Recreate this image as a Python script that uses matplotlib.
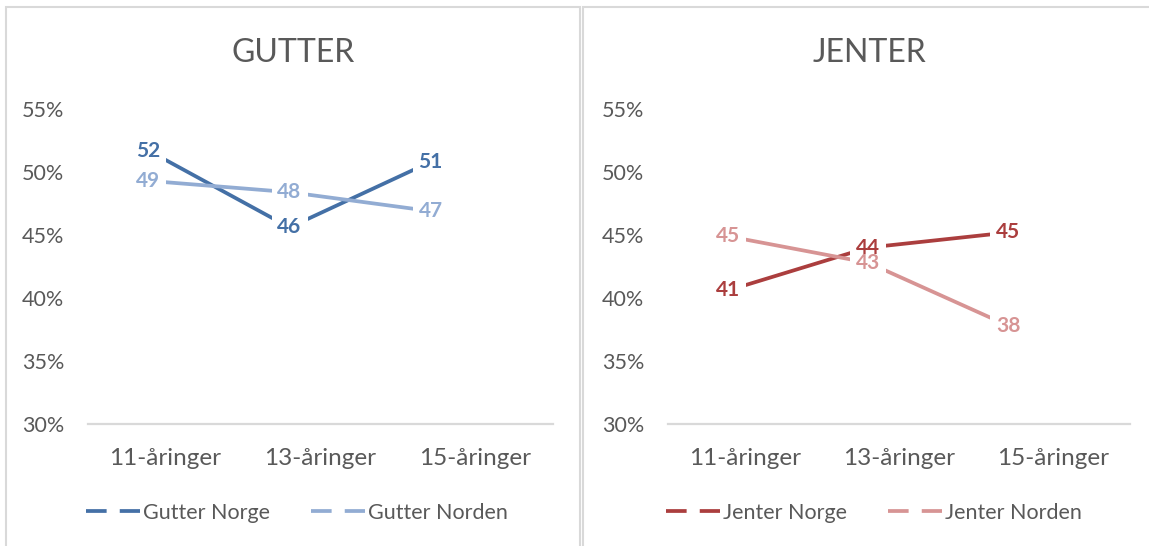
import numpy as np
import matplotlib
matplotlib.use("Agg")
import matplotlib.pyplot as plt
import matplotlib.transforms as mtransforms
from matplotlib.lines import Line2D
from matplotlib.patches import Rectangle

plt.rcParams['font.family'] = ['Lato', 'DejaVu Sans']

# data (percent)
categories = ["11-åringer", "13-åringer", "15-åringer"]
gutter_norge = [51.7, 45.6, 50.8]
gutter_norden = [49.3, 48.4, 46.9]
jenter_norge = [40.6, 44.0, 45.2]
jenter_norden = [44.9, 42.8, 37.8]
y_ticks = [30, 35, 40, 45, 50, 55]

# layout: the line points sit a bit left of the category ticks in the original
x_pts = np.array([-0.11, 0.80, 1.71])

W, H = 1149, 546
TXT = '#595959'
GRID = '#d9d9d9'
BOX_W, BOX_H = 0.36, 0.27  # white box behind each data label, inches

fig = plt.figure(figsize=(W / 100, H / 100), dpi=100)

# panel frames
fig.patches.append(Rectangle((6 / W, -0.02), (580 - 6) / W, 1 - 7 / H + 0.02,
                             transform=fig.transFigure, fill=False, ec=GRID, lw=1.5))
fig.patches.append(Rectangle((583 / W, -0.02), 0.6, 1 - 7 / H + 0.02,
                             transform=fig.transFigure, fill=False, ec=GRID, lw=1.5))

panels = [
    (88, 465, 293, "GUTTER", [("Gutter Norge", gutter_norge, '#4470a6'),
                              ("Gutter Norden", gutter_norden, '#92acd3')], 297),
    (668, 462, 869, "JENTER", [("Jenter Norge", jenter_norge, '#ab3e3e'),
                               ("Jenter Norden", jenter_norden, '#d79494')], 874),
]

for left_px, width_px, title_x, title, series, leg_x in panels:
    ax = fig.add_axes([left_px / W, 1 - 424 / H, width_px / W, (424 - 109) / H])
    ax.set_xlim(-0.5, 2.5)
    ax.set_ylim(30, 55)
    ax.set_xticks(range(len(categories)))
    ax.set_xticklabels(categories)
    ax.set_yticks(y_ticks)
    ax.set_yticklabels([f"{t}%" for t in y_ticks])
    for s in ['top', 'left', 'right']:
        ax.spines[s].set_visible(False)
    ax.spines['bottom'].set_color(GRID)
    ax.spines['bottom'].set_linewidth(1.6)
    ax.tick_params(axis='both', length=0, colors=TXT)
    ax.tick_params(axis='x', pad=17, labelsize=17.5)
    ax.tick_params(axis='y', pad=17, labelsize=15.5)

    handles = []
    for i, (name, vals, color) in enumerate(series):
        ax.plot(x_pts, vals, color=color, lw=2.7, zorder=2 + i, solid_capstyle='butt')
        for x, v in zip(x_pts, vals):
            # white box under all label texts, sized in inches around the point
            trans = fig.dpi_scale_trans + mtransforms.ScaledTranslation(x, v, ax.transData)
            ax.add_patch(Rectangle((-BOX_W / 2, -BOX_H / 2), BOX_W, BOX_H, transform=trans,
                                   fc='white', ec='none', zorder=5))
            ax.text(x, v, f"{int(v + 0.5)}", ha='center', va='center', fontsize=15,
                    fontweight='bold', color=color, zorder=8 - i)
        handles.append(Line2D([], [], color=color, lw=2.7, dashes=(5.5, 3.5), label=name))

    fig.legend(handles=handles, loc='center', bbox_to_anchor=(leg_x / W, 1 - 513 / H),
               bbox_transform=fig.transFigure, ncol=2, frameon=False, fontsize=15.5,
               handlelength=2.5, handletextpad=0.15, columnspacing=1.9, labelcolor=TXT)

    fig.text(title_x / W, 1 - 53 / H, title, ha='center', va='center',
             fontsize=23, color=TXT)

fig.savefig("out.png", dpi=100)
